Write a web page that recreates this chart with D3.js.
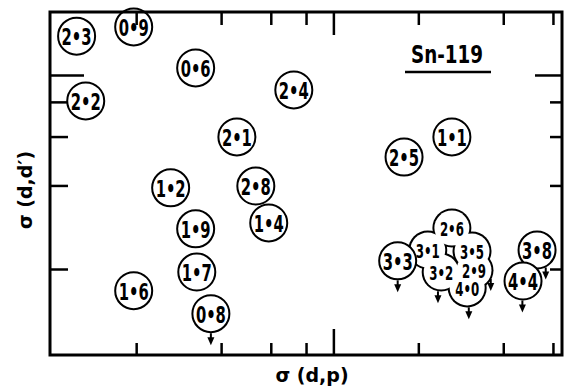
<!DOCTYPE html>
<html><head><meta charset="utf-8">
<script src="https://cdn.jsdelivr.net/npm/d3@7"></script>
<style>html,body{margin:0;padding:0;background:#fff;} svg{display:block;}</style>
</head><body>
<svg id="chart" width="566" height="389"></svg>
<script>
// Level energies (MeV) and their cross sections
const levels  = ["2•3","0•9","0•6","2•2","2•1","1•2","2•8","2•4","2•5","1•1","1•4","1•9","1•7","1•6","0•8","2•6","3•1","3•5","3•2","2•9","4•0","3•3","3•8","4•4"];
const sigmaDp = [0.123,0.196,0.325,0.1325,0.455,0.265,0.531,0.724,1.78,2.63,0.59,0.325,0.328,0.196,0.368,2.63,2.16,3.10,2.41,3.15,2.98,1.69,5.27,4.70];
const sigmaDd = [1.38,1.49,1.06,0.806,0.598,0.392,0.398,0.883,0.506,0.598,0.293,0.279,0.195,0.167,0.138,0.281,0.234,0.232,0.195,0.198,0.171,0.214,0.234,0.181];
// levels whose σ(d,d') is only an upper limit
const upperLimits = ["0•8","3•3","3•2","4•0","2•9","4•4","3•8"];
// unresolved levels drawn as one merged outline
const mergedGroup = ["2•6","3•1","3•5","3•2","2•9","4•0"];
const xTicks = [0.2,0.4,0.6,0.8,1,2,4,6];
const yTicks = [0.2,0.4,0.6,0.8,1];
const title = "Sn-119";

const svg = d3.select("#chart");
const plotL = 50, plotR = 562, plotT = 12, plotB = 355;
const R = 18.5;
const font = "'DejaVu Sans', sans-serif";

const x = d3.scaleLog().domain([0.099, 6.46]).range([plotL, plotR]);
const y = d3.scaleLog().domain([0.098, 1.686]).range([plotB, plotT]);

const pts = levels.map((l, i) => ({label: l, cx: x(sigmaDp[i]), cy: y(sigmaDd[i]), inGroup: mergedGroup.includes(l)}));
const merged = pts.filter(p => p.inGroup);
const single = pts.filter(p => !p.inGroup);

// merged outline: black discs, then white discs slightly smaller
const mg = svg.append("g");
mg.append("g").selectAll("circle").data(merged).join("circle")
  .attr("cx", d => d.cx).attr("cy", d => d.cy).attr("r", R + 1).attr("fill", "#000");
mg.append("g").selectAll("circle").data(merged).join("circle")
  .attr("cx", d => d.cx).attr("cy", d => d.cy).attr("r", R - 1).attr("fill", "#fff");

svg.append("g").selectAll("circle").data(single).join("circle")
  .attr("cx", d => d.cx).attr("cy", d => d.cy).attr("r", R)
  .attr("fill", "#fff").attr("stroke", "#000").attr("stroke-width", 2);

// upper-limit arrows leave the circle at these angles (degrees, clockwise from +x)
const arrowAngle = {"0•8":90,"3•3":90,"3•2":100,"4•0":85,"2•9":25,"4•4":92,"3•8":62};
const ag = svg.append("g");
pts.filter(p => upperLimits.includes(p.label)).forEach(p => {
  const a = arrowAngle[p.label] * Math.PI / 180;
  const sx = p.cx + R * Math.cos(a), sy = p.cy + R * Math.sin(a) + 1;
  ag.append("line").attr("x1", sx).attr("x2", sx).attr("y1", sy).attr("y2", sy + 6)
    .attr("stroke", "#000").attr("stroke-width", 2);
  ag.append("path").attr("d", `M${sx-3.5},${sy+4}L${sx+3.5},${sy+4}L${sx},${sy+12}Z`).attr("fill", "#000");
});

// labels: the crowded group is lettered a little smaller
svg.append("g").selectAll("text").data(pts).join("text")
  .attr("x", d => d.cx).attr("y", d => d.cy + 1)
  .attr("text-anchor", "middle").attr("dominant-baseline", "central")
  .attr("font-family", font).attr("font-weight", "bold")
  .attr("font-size", d => d.inGroup ? 20 : 23)
  .attr("textLength", d => d.inGroup ? 24 : 30).attr("lengthAdjust", "spacingAndGlyphs")
  .text(d => d.label);

// frame
svg.append("rect").attr("x", plotL).attr("y", plotT).attr("width", plotR - plotL).attr("height", plotB - plotT)
  .attr("fill", "none").attr("stroke", "#000").attr("stroke-width", 3);

// inward ticks on all four sides, the decade tick longer
const isMajor = v => Math.abs(v - 1) < 1e-9;
function styleAxis(g, lenMinor, lenMajor, dir) {
  g.select(".domain").remove();
  g.selectAll(".tick text").remove();
  g.selectAll(".tick line").attr("stroke", "#000").attr("stroke-width", 2.5)
    .each(function(d) {
      const L = isMajor(d) ? lenMajor : lenMinor;
      const ln = d3.select(this);
      if (dir === "x") ln.attr("y2", L); else ln.attr("x2", L);
    });
}
svg.append("g").attr("transform", `translate(0,${plotB})`)
  .call(d3.axisBottom(x).tickValues(xTicks).tickSizeOuter(0)).call(g => styleAxis(g, -12, -26, "x"));
svg.append("g").attr("transform", `translate(0,${plotT})`)
  .call(d3.axisTop(x).tickValues(xTicks).tickSizeOuter(0)).call(g => styleAxis(g, 13, 23, "x"));
svg.append("g").attr("transform", `translate(${plotL},0)`)
  .call(d3.axisLeft(y).tickValues(yTicks).tickSizeOuter(0)).call(g => styleAxis(g, 18, 34, "y"));
svg.append("g").attr("transform", `translate(${plotR},0)`)
  .call(d3.axisRight(y).tickValues(yTicks).tickSizeOuter(0)).call(g => styleAxis(g, -12, -27, "y"));

// title
svg.append("text").attr("x", 447).attr("y", 63).attr("text-anchor", "middle")
  .attr("font-family", font).attr("font-weight", "bold").attr("font-size", 24)
  .attr("textLength", 72).attr("lengthAdjust", "spacingAndGlyphs").text(title);
svg.append("line").attr("x1", 405).attr("x2", 491).attr("y1", 72).attr("y2", 72)
  .attr("stroke", "#000").attr("stroke-width", 2.5);

// axis labels
svg.append("text").attr("x", 312).attr("y", 382).attr("text-anchor", "middle")
  .attr("font-family", font).attr("font-weight", "bold").attr("font-size", 19).text("σ (d,p)");
svg.append("text").attr("transform", "translate(32,190) rotate(-90)").attr("text-anchor", "middle")
  .attr("font-family", font).attr("font-weight", "bold").attr("font-size", 19).text("σ (d,d′)");
</script>
</body></html>
